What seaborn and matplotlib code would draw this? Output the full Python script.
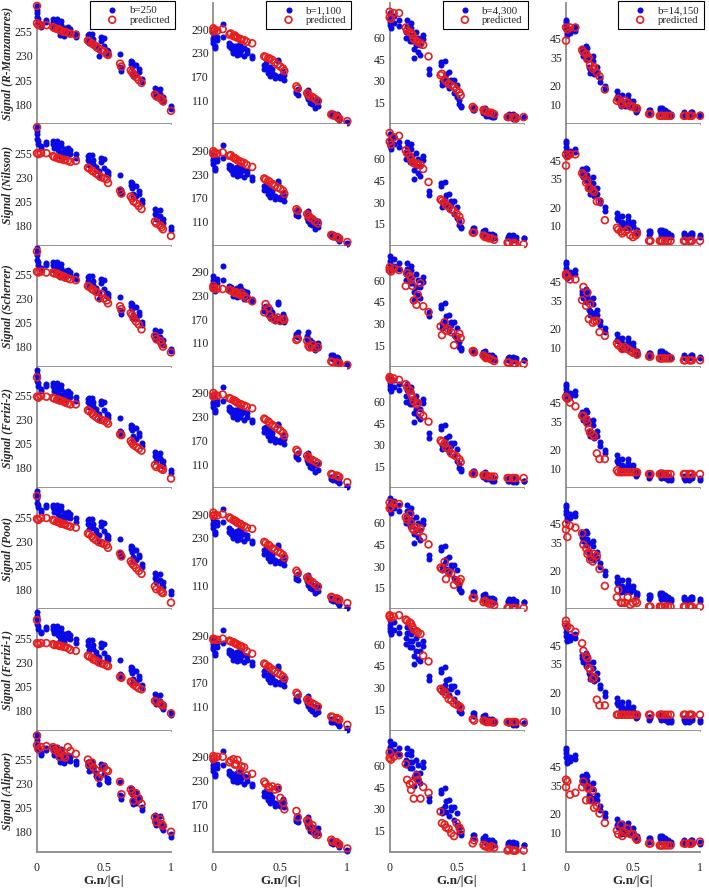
import matplotlib
matplotlib.use('Agg')
import matplotlib.pyplot as plt
import seaborn as sns

# gradient direction (G.n/|G|) of each measurement
gn = [0.00, 0.00, 0.01, 0.03, 0.07,
      0.12, 0.13, 0.15, 0.16, 0.17, 0.18, 0.20, 0.21, 0.23, 0.25, 0.29,
      0.38, 0.39, 0.41, 0.42, 0.44, 0.46, 0.48, 0.50, 0.52, 0.53,
      0.62, 0.63, 0.70, 0.71, 0.72, 0.74, 0.76, 0.78,
      0.88, 0.89, 0.92, 0.93, 0.94, 1.00]

b_labels = ['b=250', 'b=1,100', 'b=4,300', 'b=14,150']

# measured signal (two repeats per direction), one list per b-value
meas_b250 = [282, 275, 268, 262, 267,
             265, 260, 268, 263, 252, 262, 257, 255, 260, 254, 254,
             252, 243, 253, 248, 241, 230, 246, 249, 233, 235,
             232, 214, 225, 219, 209, 221, 213, 206,
             197, 187, 196, 184, 182, 178]
meas2_b250 = [278, 270, 265, 260, 265,
              268, 263, 262, 258, 256, 266, 251, 259, 255, 258, 250,
              248, 253, 246, 244, 238, 236, 250, 240, 236, 232,
              218, 217, 222, 224, 213, 210, 216, 203,
              192, 194, 190, 186, 187, 175]
meas_b1100 = [279, 262, 246, 271, 304,
              254, 241, 229, 246, 237, 225, 254, 237, 241, 229, 222,
              200, 191, 187, 195, 179, 174, 208, 166, 183, 174,
              133, 124, 120, 137, 103, 112, 91, 110,
              78, 70, 74, 66, 61, 55]
meas2_b1100 = [268, 255, 241, 262, 270,
               246, 250, 235, 232, 243, 248, 228, 245, 222, 238, 216,
               190, 204, 180, 172, 188, 166, 212, 172, 178, 162,
               127, 138, 128, 112, 118, 100, 108, 96,
               72, 78, 68, 72, 64, 52]
meas_b4300 = [77, 73, 67, 75, 68,
              60, 72, 62, 67, 58, 46, 64, 50, 55, 59, 38,
              43, 30, 44, 28, 36, 29, 31, 19, 14, 12,
              12, 10, 8, 11, 6, 8, 5, 7,
              6, 5, 7, 5, 4, 5]
meas2_b4300 = [71, 69, 75, 70, 72,
               64, 68, 58, 70, 62, 52, 55, 60, 48, 62, 35,
               41, 27, 32, 35, 25, 31, 22, 27, 17, 13,
               10, 12, 10, 9, 7, 6, 8, 5,
               5, 7, 4, 6, 6, 5]
meas_b14150 = [55, 52, 48, 48, 51,
               40, 36, 41, 37, 30, 27, 36, 26, 30, 22, 20,
               17, 13, 9, 15, 11, 13, 9, 10, 6, 8,
               5, 7, 7, 5, 8, 5, 6, 4,
               5, 4, 5, 5, 6, 4]
meas2_b14150 = [50, 54, 47, 50, 49,
                38, 39, 34, 40, 35, 29, 33, 28, 27, 24, 18,
                14, 15, 11, 12, 9, 15, 11, 12, 8, 7,
                7, 6, 8, 6, 6, 7, 4, 5,
                6, 5, 4, 6, 5, 5]

# predicted signal per model: [b=250, b=1,100, b=4,300, b=14,150]
pred_rmanzanares = [
    [282, 264, 262, 262, 262, 260, 259, 258, 258, 257, 256, 255, 255, 254, 253, 252,
     246, 245, 243, 242, 240, 238, 236, 235, 232, 231, 222, 219, 215, 213, 211, 208, 205, 202,
     190, 188, 186, 185, 183, 173],
    [292, 284, 288, 286, 290, 276, 279, 272, 274, 270, 268, 265, 263, 262, 258, 254,
     221, 219, 217, 215, 212, 205, 200, 195, 190, 184, 145, 140, 128, 125, 120, 118, 113, 108,
     74, 72, 69, 66, 63, 57],
    [78, 74, 73, 77, 77, 67, 65, 64, 63, 62, 59, 58, 57, 56, 55, 47,
     34, 35, 31, 30, 28, 27, 26, 24, 22, 20, 12, 11, 10, 9, 9, 8, 8, 7,
     5, 5, 5, 5, 4, 5],
    [51, 44, 50, 51, 51, 39, 38, 37, 34, 35, 31, 29, 30, 27, 25, 18,
     12, 13, 11, 10, 12, 11, 9, 9, 8, 8, 5, 5, 4, 4, 4, 4, 4, 4,
     4, 4, 4, 4, 4, 4]]
pred_nilsson = [
    [282, 255, 254, 255, 255, 252, 251, 250, 250, 249, 249, 248, 248, 247, 246, 247,
     240, 239, 237, 236, 234, 232, 230, 229, 228, 224, 216, 213, 210, 208, 205, 203, 200, 197,
     184, 182, 180, 178, 176, 169],
    [288, 281, 284, 282, 285, 276, 278, 272, 270, 268, 265, 262, 260, 258, 253, 248,
     219, 216, 213, 210, 205, 200, 196, 193, 188, 180, 141, 137, 129, 125, 120, 116, 110, 105,
     76, 73, 71, 69, 67, 58],
    [78, 72, 70, 75, 76, 66, 64, 62, 60, 58, 57, 57, 56, 56, 53, 44,
     32, 31, 30, 28, 27, 25, 24, 22, 20, 17, 9, 9, 7, 6, 6, 5, 5, 4,
     2, 2, 1, 2, 1, 1],
    [48, 42, 47, 48, 48, 38, 37, 33, 34, 30, 30, 29, 28, 23, 23, 13,
     9, 8, 7, 6, 7, 8, 5, 4, 5, 6, 2, 2, 2, 2, 2, 2, 2, 2,
     2, 2, 2, 2, 2, 2]]
pred_scherrer = [
    [279, 258, 257, 258, 257, 257, 256, 256, 255, 254, 254, 253, 252, 251, 250, 249,
     243, 242, 240, 239, 237, 231, 235, 230, 228, 225, 222, 219, 215, 213, 210, 206, 203, 198,
     191, 188, 186, 183, 180, 174],
    [254, 248, 246, 247, 246, 244, 242, 240, 236, 238, 234, 231, 236, 228, 222, 215,
     187, 208, 198, 180, 172, 168, 174, 165, 170, 168, 117, 120, 115, 102, 98, 104, 96, 100,
     63, 61, 60, 59, 58, 54],
    [69, 67, 66, 68, 67, 56, 65, 63, 61, 56, 46, 43, 50, 58, 42, 38,
     28, 22, 31, 25, 26, 24, 15, 21, 23, 20, 11, 10, 8, 7, 6, 6, 5, 4,
     3, 3, 2, 2, 2, 2],
    [49, 48, 48, 46, 46, 35, 42, 32, 39, 25, 33, 23, 24, 24, 18, 16,
     12, 11, 10, 9, 10, 9, 8, 7, 7, 6, 5, 5, 4, 4, 4, 4, 4, 4,
     3, 3, 3, 3, 3, 3]]
pred_ferizi2 = [
    [274, 254, 253, 255, 254, 253, 252, 251, 251, 250, 250, 249, 248, 247, 246, 246,
     240, 239, 237, 235, 233, 231, 230, 229, 228, 226, 215, 214, 208, 206, 204, 202, 200, 198,
     183, 181, 180, 179, 178, 169],
    [290, 281, 284, 283, 286, 277, 275, 272, 270, 268, 265, 262, 260, 258, 255, 251,
     225, 222, 218, 214, 209, 204, 199, 195, 189, 182, 146, 142, 131, 127, 123, 120, 116, 112,
     85, 83, 81, 79, 77, 64],
    [77, 76, 75, 76, 75, 72, 70, 68, 65, 63, 60, 58, 59, 52, 50, 46,
     33, 32, 31, 28, 27, 24, 23, 22, 20, 18, 10, 10, 9, 9, 9, 8, 8, 8,
     7, 7, 7, 7, 7, 7],
    [48, 48, 47, 45, 43, 38, 38, 36, 34, 31, 29, 28, 27, 18, 15, 15,
     9, 8, 8, 8, 8, 8, 8, 8, 8, 8, 7, 7, 7, 7, 7, 7, 7, 7,
     7, 7, 7, 7, 7, 7]]
pred_poot = [
    [277, 253, 252, 254, 254, 252, 251, 250, 250, 249, 248, 248, 247, 246, 245, 244,
     238, 237, 235, 233, 231, 229, 228, 227, 226, 223, 217, 214, 209, 207, 205, 202, 199, 196,
     183, 180, 179, 177, 176, 166],
    [294, 286, 288, 287, 290, 282, 279, 276, 273, 272, 268, 266, 263, 260, 256, 253,
     220, 217, 213, 210, 204, 200, 196, 192, 187, 180, 147, 142, 130, 126, 122, 118, 112, 106,
     81, 79, 77, 75, 73, 65],
    [74, 70, 71, 73, 73, 64, 62, 66, 60, 56, 55, 57, 54, 56, 50, 45,
     29, 28, 33, 21, 26, 25, 17, 20, 19, 21, 8, 8, 5, 6, 5, 4, 4, 3,
     1, 1, 1, 1, 1, 1],
    [45, 42, 38, 44, 43, 40, 34, 32, 29, 30, 26, 25, 29, 28, 21, 12,
     6, 10, 3, 3, 3, 6, 2, 3, 4, 3, 1, 1, 1, 1, 1, 1, 1, 1,
     1, 1, 1, 1, 1, 1]]
pred_ferizi1 = [
    [274, 250, 249, 250, 250, 249, 248, 248, 248, 247, 247, 246, 246, 245, 243, 242,
     237, 236, 235, 233, 232, 230, 229, 228, 227, 226, 215, 214, 210, 209, 207, 205, 203, 202,
     190, 189, 187, 186, 185, 177],
    [282, 279, 280, 279, 282, 277, 275, 273, 271, 269, 267, 264, 262, 259, 250, 244,
     219, 216, 212, 209, 204, 199, 195, 191, 186, 181, 145, 141, 128, 125, 121, 118, 114, 110,
     85, 83, 81, 79, 77, 64],
    [80, 79, 78, 79, 80, 77, 76, 75, 74, 72, 70, 69, 68, 67, 52, 48,
     29, 28, 27, 25, 22, 21, 19, 18, 17, 16, 8, 7, 7, 7, 6, 6, 6, 6,
     6, 6, 6, 6, 6, 6],
    [58, 56, 55, 54, 52, 46, 42, 39, 38, 33, 32, 27, 28, 16, 13, 13,
     8, 8, 8, 8, 8, 8, 8, 8, 8, 8, 8, 8, 8, 8, 8, 8, 8, 8,
     8, 8, 8, 8, 8, 8]]
pred_alipoor = [
    [280, 270, 266, 268, 269, 268, 265, 266, 262, 258, 263, 259, 257, 268, 264, 261,
     255, 250, 252, 247, 244, 236, 240, 247, 244, 243, 232, 219, 224, 221, 212, 220, 214, 209,
     195, 190, 193, 188, 186, 180],
    [292, 284, 288, 290, 290, 276, 280, 284, 270, 272, 282, 256, 266, 264, 243, 247,
     227, 222, 214, 211, 215, 207, 212, 186, 174, 157, 153, 137, 129, 125, 112, 117, 97, 92,
     80, 76, 74, 70, 68, 58],
    [69, 65, 64, 66, 67, 61, 50, 47, 43, 48, 37, 53, 50, 37, 45, 41,
     28, 20, 19, 17, 16, 13, 11, 20, 17, 15, 6, 8, 5, 4, 4, 3, 4, 3,
     1, 2, 1, 1, 1, 1],
    [34, 38, 37, 30, 31, 34, 37, 27, 34, 33, 27, 32, 23, 24, 20, 15,
     11, 9, 14, 8, 10, 12, 9, 9, 7, 6, 4, 4, 3, 3, 3, 3, 3, 3,
     4, 4, 4, 4, 4, 5]]

models = ['R-Manzanares', 'Nilsson', 'Scherrer', 'Ferizi-2', 'Poot', 'Ferizi-1', 'Alipoor']
predicted = [pred_rmanzanares, pred_nilsson, pred_scherrer, pred_ferizi2,
             pred_poot, pred_ferizi1, pred_alipoor]
measured = [meas_b250, meas_b1100, meas_b4300, meas_b14150]
measured2 = [meas2_b250, meas2_b1100, meas2_b4300, meas2_b14150]

y_limits = [(159, 285), (49, 356), (0, 84), (-0.5, 64)]
y_ticks = [[180, 205, 230, 255], [110, 170, 230, 290], [15, 30, 45, 60], [10, 20, 35, 45]]

sns.set_style('white')
plt.rcParams['font.family'] = ['Liberation Serif', 'DejaVu Serif']

fig, axes = plt.subplots(7, 4, figsize=(7.09, 8.88), dpi=100)
fig.subplots_adjust(left=37/709, right=700/709, top=1 - 3/888, bottom=1 - 852/888,
                    wspace=0.316, hspace=0)

blue = '#0a0ae6'
red = '#e61e1e'
spine_gray = '#8c8c8c'

for r, model in enumerate(models):
    for c in range(4):
        ax = axes[r, c]
        sns.scatterplot(x=gn, y=measured2[c], ax=ax, color=blue, marker='o', s=19,
                        linewidth=0, clip_on=False, zorder=3)
        sns.scatterplot(x=gn, y=measured[c], ax=ax, color=blue, marker='o', s=19,
                        linewidth=0, clip_on=False, zorder=3,
                        label=b_labels[c] if r == 0 else None)
        sns.scatterplot(x=gn, y=predicted[r][c], ax=ax, color=red, facecolors='none',
                        edgecolor=red, marker='o', s=24, linewidth=1.2, clip_on=False,
                        zorder=4, label='predicted' if r == 0 else None)
        ax.set_xlim(0, 1)
        ax.set_ylim(*y_limits[c])
        ax.set_yticks(y_ticks[c])
        ax.set_xticks([0, 0.5, 1])
        ax.set_xticklabels(['0', '0.5', '1'])
        for side in ['top', 'right']:
            ax.spines[side].set_visible(False)
        for side in ['left', 'bottom']:
            ax.spines[side].set_color(spine_gray)
            ax.spines[side].set_linewidth(1.3)
        ax.tick_params(direction='in', length=3, width=0.8, color=spine_gray,
                       labelsize=8.5, labelcolor='#222222', pad=3)
        ax.tick_params(axis='x', pad=7, labelbottom=(r == 6))
        ax.set_xlabel('')
        ax.set_ylabel('')
        if c == 0:
            ax.set_ylabel(f'Signal ({model})', fontsize=8.4, fontweight='bold',
                          fontstyle='italic')
            ax.yaxis.set_label_coords(-0.17, 0.5)
        if r == 6:
            ax.set_xlabel('G.n/|G|', fontsize=9.5, fontweight='bold', labelpad=1)
        if r == 0:
            leg = ax.legend(loc='upper right', bbox_to_anchor=(1.03, 1.02), borderaxespad=0,
                            fontsize=7.8, frameon=True, fancybox=False, framealpha=1,
                            edgecolor='black', handlelength=3.2, handletextpad=0.0,
                            borderpad=0.45, labelspacing=0.0)
            leg.get_frame().set_linewidth(0.8)
            leg.set_zorder(10)
        elif ax.get_legend() is not None:
            ax.get_legend().remove()

fig.savefig('out.png', dpi=100)
